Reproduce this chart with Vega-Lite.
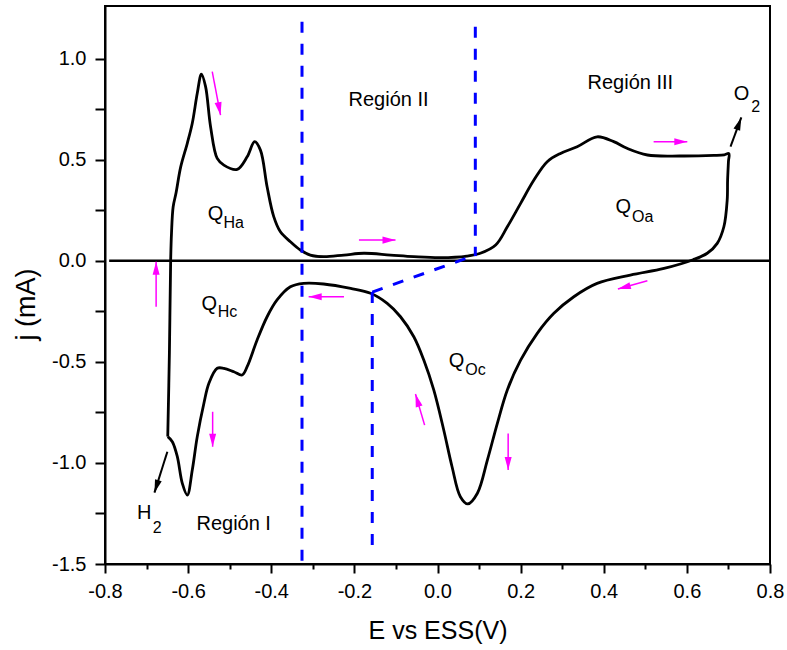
{
  "$schema": "https://vega.github.io/schema/vega-lite/v6.json",
  "autosize": {"type": "none"},
  "padding": {"left": 105, "top": 6, "right": 17, "bottom": 86},
  "width": 665,
  "height": 558,
  "background": "white",
  "config": {
    "font": "Liberation Sans",
    "view": {"stroke": "black", "strokeWidth": 2},
    "axis": {
      "grid": false,
      "domainColor": "black",
      "domainWidth": 2,
      "tickColor": "black",
      "tickWidth": 2,
      "labelFont": "Liberation Sans",
      "labelFontSize": 20,
      "labelColor": "black",
      "titleFont": "Liberation Sans",
      "titleFontSize": 25,
      "titleFontWeight": "normal",
      "titleColor": "black"
    }
  },
  "datasets": {
    "cv": [
      {"i": 0, "E": -0.649, "j": -0.870},
      {"i": 1, "E": -0.645, "j": -0.45},
      {"i": 2, "E": -0.642, "j": 0.003},
      {"i": 3, "E": -0.640, "j": 0.136},
      {"i": 4, "E": -0.636, "j": 0.267},
      {"i": 5, "E": -0.629, "j": 0.336},
      {"i": 6, "E": -0.618, "j": 0.463},
      {"i": 7, "E": -0.602, "j": 0.581},
      {"i": 8, "E": -0.590, "j": 0.680},
      {"i": 9, "E": -0.578, "j": 0.828},
      {"i": 10, "E": -0.568, "j": 0.923},
      {"i": 11, "E": -0.558, "j": 0.861},
      {"i": 12, "E": -0.546, "j": 0.663},
      {"i": 13, "E": -0.530, "j": 0.506},
      {"i": 14, "E": -0.514, "j": 0.473},
      {"i": 15, "E": -0.482, "j": 0.452},
      {"i": 16, "E": -0.458, "j": 0.514},
      {"i": 17, "E": -0.440, "j": 0.589},
      {"i": 18, "E": -0.426, "j": 0.547},
      {"i": 19, "E": -0.410, "j": 0.366},
      {"i": 20, "E": -0.394, "j": 0.218},
      {"i": 21, "E": -0.378, "j": 0.143},
      {"i": 22, "E": -0.354, "j": 0.094},
      {"i": 23, "E": -0.330, "j": 0.053},
      {"i": 24, "E": -0.306, "j": 0.028},
      {"i": 25, "E": -0.274, "j": 0.020},
      {"i": 26, "E": -0.225, "j": 0.028},
      {"i": 27, "E": -0.177, "j": 0.037},
      {"i": 28, "E": -0.113, "j": 0.028},
      {"i": 29, "E": -0.057, "j": 0.020},
      {"i": 30, "E": 0.007, "j": 0.015},
      {"i": 31, "E": 0.071, "j": 0.023},
      {"i": 32, "E": 0.103, "j": 0.037},
      {"i": 33, "E": 0.140, "j": 0.078},
      {"i": 34, "E": 0.168, "j": 0.168},
      {"i": 35, "E": 0.200, "j": 0.284},
      {"i": 36, "E": 0.232, "j": 0.399},
      {"i": 37, "E": 0.264, "j": 0.490},
      {"i": 38, "E": 0.296, "j": 0.531},
      {"i": 39, "E": 0.336, "j": 0.564},
      {"i": 40, "E": 0.384, "j": 0.613},
      {"i": 41, "E": 0.424, "j": 0.589},
      {"i": 42, "E": 0.456, "j": 0.556},
      {"i": 43, "E": 0.505, "j": 0.523},
      {"i": 44, "E": 0.585, "j": 0.518},
      {"i": 45, "E": 0.665, "j": 0.521},
      {"i": 46, "E": 0.690, "j": 0.524},
      {"i": 47, "E": 0.701, "j": 0.530},
      {"i": 48, "E": 0.700, "j": 0.490},
      {"i": 49, "E": 0.698, "j": 0.400},
      {"i": 50, "E": 0.697, "j": 0.300},
      {"i": 51, "E": 0.689, "j": 0.168},
      {"i": 52, "E": 0.673, "j": 0.086},
      {"i": 53, "E": 0.649, "j": 0.037},
      {"i": 54, "E": 0.615, "j": 0.005},
      {"i": 55, "E": 0.545, "j": -0.038},
      {"i": 56, "E": 0.464, "j": -0.071},
      {"i": 57, "E": 0.384, "j": -0.112},
      {"i": 58, "E": 0.328, "j": -0.178},
      {"i": 59, "E": 0.280, "j": -0.260},
      {"i": 60, "E": 0.240, "j": -0.359},
      {"i": 61, "E": 0.200, "j": -0.492},
      {"i": 62, "E": 0.168, "j": -0.639},
      {"i": 63, "E": 0.144, "j": -0.804},
      {"i": 64, "E": 0.120, "j": -0.986},
      {"i": 65, "E": 0.096, "j": -1.150},
      {"i": 66, "E": 0.073, "j": -1.203},
      {"i": 67, "E": 0.055, "j": -1.167},
      {"i": 68, "E": 0.035, "j": -1.019},
      {"i": 69, "E": 0.015, "j": -0.837},
      {"i": 70, "E": -0.009, "j": -0.639},
      {"i": 71, "E": -0.033, "j": -0.491},
      {"i": 72, "E": -0.057, "j": -0.376},
      {"i": 73, "E": -0.089, "j": -0.277},
      {"i": 74, "E": -0.121, "j": -0.211},
      {"i": 75, "E": -0.161, "j": -0.161},
      {"i": 76, "E": -0.209, "j": -0.137},
      {"i": 77, "E": -0.274, "j": -0.115},
      {"i": 78, "E": -0.322, "j": -0.112},
      {"i": 79, "E": -0.354, "j": -0.129},
      {"i": 80, "E": -0.386, "j": -0.194},
      {"i": 81, "E": -0.410, "j": -0.277},
      {"i": 82, "E": -0.434, "j": -0.392},
      {"i": 83, "E": -0.458, "j": -0.524},
      {"i": 84, "E": -0.470, "j": -0.565},
      {"i": 85, "E": -0.490, "j": -0.549},
      {"i": 86, "E": -0.514, "j": -0.532},
      {"i": 87, "E": -0.530, "j": -0.532},
      {"i": 88, "E": -0.550, "j": -0.606},
      {"i": 89, "E": -0.562, "j": -0.705},
      {"i": 90, "E": -0.578, "j": -0.870},
      {"i": 91, "E": -0.590, "j": -1.035},
      {"i": 92, "E": -0.602, "j": -1.159},
      {"i": 93, "E": -0.614, "j": -1.101},
      {"i": 94, "E": -0.626, "j": -0.969},
      {"i": 95, "E": -0.638, "j": -0.895},
      {"i": 96, "E": -0.649, "j": -0.870}
    ],
    "dashed": [
      {"E": -0.326, "j": 1.182, "E2": -0.326, "j2": -1.5},
      {"E": 0.091, "j": 1.157, "E2": 0.091, "j2": 0.023},
      {"E": -0.157, "j": -0.155, "E2": -0.157, "j2": -1.416},
      {"E": -0.157, "j": -0.155, "E2": 0.091, "j2": 0.028}
    ],
    "arrows": [
      {"E": -0.542, "j": 0.935, "E2": -0.522, "j2": 0.720, "grp": "scan"},
      {"E": -0.677, "j": -0.227, "E2": -0.677, "j2": -0.005, "grp": "scan"},
      {"E": -0.189, "j": 0.102, "E2": -0.101, "j2": 0.102, "grp": "scan"},
      {"E": 0.520, "j": 0.589, "E2": 0.601, "j2": 0.589, "grp": "scan"},
      {"E": -0.225, "j": -0.178, "E2": -0.310, "j2": -0.178, "grp": "scan"},
      {"E": -0.541, "j": -0.747, "E2": -0.541, "j2": -0.920, "grp": "scan"},
      {"E": 0.505, "j": -0.099, "E2": 0.434, "j2": -0.140, "grp": "scan"},
      {"E": -0.031, "j": -0.813, "E2": -0.053, "j2": -0.659, "grp": "scan"},
      {"E": 0.170, "j": -0.854, "E2": 0.170, "j2": -1.035, "grp": "scan"},
      {"E": -0.650, "j": -0.945, "E2": -0.681, "j2": -1.147, "grp": "product"},
      {"E": 0.705, "j": 0.564, "E2": 0.731, "j2": 0.709, "grp": "product"}
    ],
    "labels": [
      {"E": -0.553, "j": 0.201, "t": "Q", "level": "main"},
      {"E": -0.515, "j": 0.162, "t": "Ha", "level": "sub"},
      {"E": -0.568, "j": -0.244, "t": "Q", "level": "main"},
      {"E": -0.529, "j": -0.277, "t": "Hc", "level": "sub"},
      {"E": 0.428, "j": 0.236, "t": "Q", "level": "main"},
      {"E": 0.468, "j": 0.193, "t": "Oa", "level": "sub"},
      {"E": 0.027, "j": -0.524, "t": "Q", "level": "main"},
      {"E": 0.067, "j": -0.565, "t": "Oc", "level": "sub"},
      {"E": -0.723, "j": -1.279, "t": "H", "level": "main"},
      {"E": -0.685, "j": -1.348, "t": "2", "level": "sub"},
      {"E": 0.713, "j": 0.795, "t": "O", "level": "main"},
      {"E": 0.755, "j": 0.737, "t": "2", "level": "sub"},
      {"E": -0.214, "j": 0.765, "t": "Región II", "level": "main"},
      {"E": 0.361, "j": 0.848, "t": "Región III", "level": "main"},
      {"E": -0.580, "j": -1.332, "t": "Región I", "level": "main"}
    ]
  },
  "encoding": {
    "x": {
      "field": "E",
      "type": "quantitative",
      "scale": {"domain": [-0.8, 0.8], "nice": false, "zero": false},
      "axis": {
        "title": "E vs ESS(V)",
        "values": [-0.8, -0.7, -0.6, -0.5, -0.4, -0.3, -0.2, -0.1, 0, 0.1, 0.2, 0.3, 0.4, 0.5, 0.6, 0.7, 0.8],
        "labelExpr": "abs(datum.value*5 - round(datum.value*5)) < 0.001 ? replace(format(datum.value, '.1f'), '\u2212', '-') : ''",
        "tickSize": {"condition": {"test": "abs(datum.value*5 - round(datum.value*5)) < 0.001", "value": 9}, "value": 5},
        "labelPadding": 8,
        "labelFlush": false,
        "labelOverlap": false,
        "titleBaseline": "alphabetic",
        "titleY": 74
      }
    },
    "y": {
      "field": "j",
      "type": "quantitative",
      "scale": {"domain": [-1.5, 1.26], "nice": false, "zero": false},
      "axis": {
        "title": "j (mA)",
        "titleFontSize": 27,
        "values": [-1.5, -1.25, -1, -0.75, -0.5, -0.25, 0, 0.25, 0.5, 0.75, 1],
        "labelExpr": "abs(datum.value*2 - round(datum.value*2)) < 0.001 ? replace(format(datum.value, '.1f'), '\u2212', '-') : ''",
        "tickSize": 10,
        "labelPadding": 9,
        "labelFlush": false,
        "labelOverlap": false,
        "titleBaseline": "alphabetic",
        "titleX": -71,
        "titleY": 298
      }
    }
  },
  "layer": [
    {
      "data": {"values": [{"E": -0.79, "E2": 0.8, "j": 0}]},
      "mark": {"type": "rule", "color": "black", "strokeWidth": 2.5},
      "encoding": {"x2": {"field": "E2"}}
    },
    {
      "data": {"name": "cv"},
      "mark": {"type": "line", "color": "black", "strokeWidth": 2.8, "interpolate": "catmull-rom"},
      "encoding": {"order": {"field": "i", "type": "quantitative"}}
    },
    {
      "data": {"name": "dashed"},
      "mark": {"type": "rule", "color": "#0000ff", "strokeWidth": 3, "strokeDash": [11, 11]},
      "encoding": {"x2": {"field": "E2"}, "y2": {"field": "j2"}}
    },
    {
      "data": {"name": "arrows"},
      "mark": {"type": "rule"},
      "encoding": {
        "x2": {"field": "E2"},
        "y2": {"field": "j2"},
        "color": {"field": "grp", "type": "nominal", "scale": {"domain": ["scan", "product"], "range": ["#ff00ff", "#000000"]}, "legend": null},
        "strokeWidth": {"field": "grp", "type": "nominal", "scale": {"domain": ["scan", "product"], "range": [1.5, 2]}, "legend": null}
      }
    },
    {
      "data": {"name": "arrows"},
      "transform": [
        {"calculate": "atan2((datum.E2 - datum.E) * 415.6, (datum.j2 - datum.j) * 202.2) * 180 / PI", "as": "ang"}
      ],
      "mark": {"type": "point", "filled": true, "opacity": 1, "strokeWidth": 0, "shape": "M0,0L0.27,1L-0.27,1Z", "size": 676},
      "encoding": {
        "x": {"field": "E2", "type": "quantitative"},
        "y": {"field": "j2", "type": "quantitative"},
        "angle": {"field": "ang", "type": "quantitative", "scale": null},
        "color": {"field": "grp", "type": "nominal", "scale": {"domain": ["scan", "product"], "range": ["#ff00ff", "#000000"]}, "legend": null}
      }
    },
    {
      "data": {"name": "labels"},
      "mark": {"type": "text", "align": "left", "baseline": "alphabetic", "font": "Liberation Sans", "color": "black"},
      "encoding": {
        "text": {"field": "t"},
        "size": {"field": "level", "type": "nominal", "scale": {"domain": ["main", "sub"], "range": [20, 16]}, "legend": null}
      }
    }
  ]
}
